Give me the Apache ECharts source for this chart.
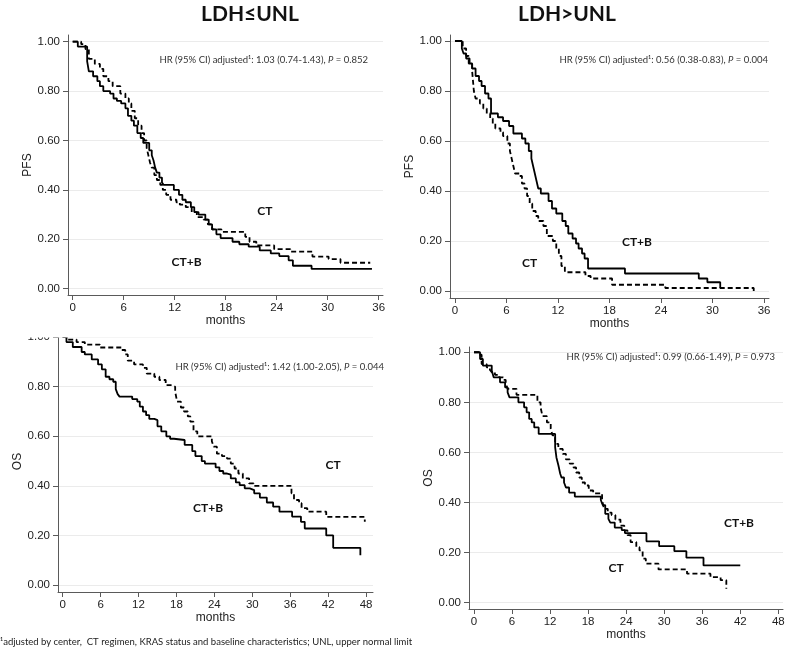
<!DOCTYPE html>
<html><head><meta charset="utf-8">
<script src="https://cdn.jsdelivr.net/npm/echarts@6/dist/echarts.min.js"></script>
<style>html,body{margin:0;padding:0;background:#fff}#c{width:794px;height:654px}</style>
</head><body><div id="c"></div>
<script>
// ---------- data (months, survival probability), step after each time ----------
const pfsLowCTB = [[0,1],[0.6,0.98],[1.7,0.92],[1.9,0.88],[2.4,0.86],[2.9,0.84],[3.2,0.82],[3.6,0.80],[4.4,0.79],[4.8,0.77],[5.2,0.76],[5.7,0.75],[6.2,0.73],[6.5,0.70],[6.9,0.68],[7.2,0.66],[7.6,0.63],[8.0,0.61],[8.3,0.59],[9.0,0.56],[9.3,0.54],[9.5,0.52],[9.7,0.49],[9.9,0.47],[10.2,0.45],[10.5,0.43],[10.7,0.42],[11.9,0.40],[12.5,0.38],[12.9,0.36],[13.3,0.35],[13.9,0.33],[14.3,0.31],[14.8,0.30],[15.6,0.28],[16.0,0.26],[16.4,0.24],[16.9,0.22],[17.4,0.205],[18.8,0.19],[19.6,0.18],[20.7,0.17],[22.0,0.155],[23.3,0.143],[24.3,0.132],[25.4,0.115],[25.9,0.093],[28.1,0.08],[35.2,0.08]];
const pfsLowCT = [[0,1],[1.0,0.99],[1.5,0.97],[1.9,0.93],[2.6,0.91],[3.2,0.89],[3.6,0.86],[4.2,0.84],[4.7,0.82],[5.6,0.79],[6.2,0.77],[6.6,0.75],[6.9,0.72],[7.3,0.69],[7.7,0.66],[8.1,0.63],[8.4,0.60],[8.7,0.57],[8.9,0.54],[9.1,0.51],[9.3,0.49],[9.6,0.46],[9.9,0.44],[10.3,0.42],[10.6,0.40],[11.0,0.38],[11.5,0.36],[12.2,0.35],[12.6,0.34],[13.3,0.33],[14.0,0.31],[14.6,0.29],[15.4,0.28],[15.9,0.26],[16.4,0.24],[17.5,0.23],[20.3,0.21],[20.8,0.19],[21.6,0.175],[23.7,0.16],[25.6,0.15],[28.2,0.13],[30.1,0.12],[31.5,0.105],[35.0,0.105]];
const pfsHighCTB = [[0,1],[0.8,0.97],[1.0,0.95],[1.3,0.93],[1.7,0.91],[2.0,0.89],[2.4,0.86],[2.8,0.84],[3.1,0.82],[3.5,0.79],[3.9,0.77],[4.2,0.71],[5.0,0.695],[5.6,0.68],[6.3,0.66],[6.8,0.63],[7.8,0.61],[8.2,0.59],[8.6,0.56],[8.9,0.53],[9.1,0.50],[9.3,0.47],[9.5,0.44],[9.7,0.41],[10.0,0.39],[10.9,0.36],[11.3,0.33],[11.8,0.31],[12.5,0.28],[12.9,0.26],[13.2,0.23],[13.7,0.21],[14.1,0.19],[14.4,0.17],[14.8,0.15],[15.1,0.13],[15.5,0.09],[19.8,0.07],[28.4,0.05],[29.4,0.035],[30.9,0.012]];
const pfsHighCT = [[0,1],[0.9,0.97],[1.3,0.94],[1.6,0.91],[2.0,0.88],[2.2,0.80],[2.4,0.77],[2.9,0.75],[3.3,0.73],[3.7,0.71],[4.1,0.69],[4.4,0.67],[4.7,0.65],[5.3,0.635],[5.6,0.62],[6.1,0.59],[6.4,0.56],[6.6,0.53],[6.8,0.50],[7.0,0.47],[7.5,0.46],[7.8,0.43],[8.1,0.41],[8.4,0.38],[8.7,0.35],[9.0,0.32],[9.4,0.30],[9.7,0.28],[10.3,0.26],[10.7,0.22],[11.4,0.20],[11.8,0.17],[12.1,0.14],[12.4,0.10],[12.8,0.075],[15.2,0.06],[15.8,0.05],[18.3,0.025],[24.5,0.012],[34.8,0.0]];
const osLowCTB = [[0,1],[0.6,0.98],[1.6,0.96],[3.0,0.94],[3.5,0.93],[4.6,0.91],[5.6,0.89],[6.2,0.87],[6.8,0.84],[7.4,0.83],[8.0,0.82],[8.4,0.79],[8.7,0.77],[9.0,0.76],[11.0,0.75],[11.8,0.74],[12.2,0.72],[12.7,0.70],[13.2,0.685],[13.7,0.67],[14.5,0.665],[15.0,0.64],[15.6,0.62],[16.4,0.60],[17.0,0.59],[17.6,0.585],[19.3,0.565],[20.5,0.54],[21.0,0.52],[22.0,0.50],[22.5,0.49],[24.2,0.475],[24.8,0.46],[25.4,0.45],[25.9,0.445],[26.6,0.43],[27.4,0.414],[28.0,0.403],[28.8,0.39],[29.6,0.383],[30.3,0.37],[31.2,0.353],[32.3,0.333],[33.3,0.316],[34.3,0.296],[36.3,0.276],[37.7,0.255],[38.3,0.228],[41.7,0.20],[42.8,0.15],[47.1,0.12]];
const osLowCT = [[0,1],[0.6,0.99],[2.2,0.98],[3.5,0.97],[5.9,0.958],[9.3,0.948],[9.9,0.93],[10.3,0.905],[11.3,0.89],[12.7,0.876],[13.3,0.853],[14.5,0.84],[15.3,0.827],[16.3,0.806],[17.3,0.80],[17.8,0.78],[18.1,0.74],[18.7,0.716],[19.2,0.70],[19.8,0.68],[20.2,0.659],[20.7,0.62],[21.3,0.60],[23.6,0.58],[23.9,0.558],[24.4,0.53],[25.2,0.52],[26.0,0.51],[26.6,0.49],[27.2,0.47],[27.8,0.45],[28.5,0.43],[29.5,0.41],[30.2,0.40],[36.2,0.37],[36.6,0.343],[37.4,0.33],[37.8,0.31],[38.7,0.296],[41.7,0.275],[47.8,0.255]];
const osHighCTB = [[0,1],[0.95,0.973],[1.4,0.947],[2.8,0.927],[3.1,0.90],[4.1,0.88],[4.9,0.86],[5.3,0.84],[5.6,0.82],[7.0,0.80],[7.9,0.78],[8.3,0.76],[8.7,0.734],[9.1,0.72],[9.5,0.70],[10.2,0.674],[12.8,0.62],[13.0,0.58],[13.3,0.55],[13.6,0.515],[13.8,0.50],[14.2,0.48],[14.5,0.46],[15.0,0.44],[15.9,0.424],[20.0,0.41],[20.3,0.39],[20.7,0.355],[21.2,0.335],[21.5,0.32],[22.2,0.30],[23.3,0.29],[23.8,0.278],[27.2,0.245],[29.2,0.226],[31.6,0.206],[33.5,0.18],[36.2,0.149],[42.0,0.149]];
const osHighCT = [[0,1],[0.8,0.99],[1.2,0.953],[2.0,0.94],[2.5,0.93],[2.8,0.92],[3.3,0.91],[4.0,0.90],[4.6,0.89],[5.0,0.874],[5.3,0.854],[6.7,0.83],[10.0,0.80],[10.5,0.78],[10.8,0.745],[11.5,0.72],[12.1,0.694],[12.4,0.668],[12.8,0.634],[13.3,0.614],[14.0,0.594],[14.5,0.572],[15.1,0.555],[15.7,0.54],[16.1,0.52],[16.6,0.50],[17.0,0.48],[17.5,0.468],[18.1,0.448],[18.8,0.437],[20.2,0.41],[20.5,0.375],[21.1,0.36],[21.7,0.35],[22.3,0.332],[23.1,0.308],[23.7,0.289],[24.2,0.27],[24.7,0.242],[25.6,0.222],[26.1,0.209],[26.6,0.176],[27.1,0.156],[29.1,0.133],[33.6,0.116],[37.3,0.102],[38.9,0.09],[39.8,0.056]];

const pfsTicks = [0, 6, 12, 18, 24, 30, 36];
const osTicks = [0, 6, 12, 18, 24, 30, 36, 42, 48];
const yTicks = [0, 0.2, 0.4, 0.6, 0.8, 1.0];

const titles = ['LDH\u2264UNL', 'LDH>UNL'];
const hrTexts = [
  'HR (95% CI) adjusted\u00b9: 1.03 (0.74-1.43), {i|P} = 0.852',
  'HR (95% CI) adjusted\u00b9: 0.56 (0.38-0.83), {i|P} = 0.004',
  'HR (95% CI) adjusted\u00b9: 1.42 (1.00-2.05), {i|P} = 0.044',
  'HR (95% CI) adjusted\u00b9: 0.99 (0.66-1.49), {i|P} = 0.973'
];
// group label positions in data coordinates [months, survival]
const groupLabels = [
  [['CT', 22.6, 0.315], ['CT+B', 13.4, 0.108]],
  [['CT+B', 21.2, 0.197], ['CT', 8.7, 0.111]],
  [['CT', 42.8, 0.484], ['CT+B', 23.0, 0.31]],
  [['CT+B', 41.8, 0.317], ['CT', 22.4, 0.14]]
];
const footnote = '\u00b9adjusted by center,  CT regimen, KRAS status and baseline characteristics; UNL, upper normal limit';

// ---------- layout ----------
const NARROW = '"Liberation Sans Narrow","Arial Narrow","Liberation Sans",sans-serif';
const HUMAN = 'Lato,"Open Sans",sans-serif';
const panels = [
  {grid:{left:68, top:35, width:315, height:260}, x:[-0.553, 36.5], y:[-0.0255, 1.027], xt:pfsTicks, yname:'PFS', ctb:pfsLowCTB, ct:pfsLowCT, hr:[368, 60]},
  {grid:{left:450, top:35, width:319, height:263}, x:[-0.58, 36.58], y:[-0.028, 1.024], xt:pfsTicks, yname:'PFS', ctb:pfsHighCTB, ct:pfsHighCT, hr:[768, 60]},
  {grid:{left:58, top:331, width:315, height:261}, x:[-0.74, 49.1], y:[-0.028, 1.0246], xt:osTicks, yname:'OS', ctb:osLowCTB, ct:osLowCT, hr:[384, 367]},
  {grid:{left:469, top:347, width:314, height:262}, x:[-0.79, 48.74], y:[-0.025, 1.021], xt:osTicks, yname:'OS', ctb:osHighCTB, ct:osHighCT, hr:[775, 357]}
];

const axisColor = '#5a5a5a';
const grids = [], xAxes = [], yAxes = [], series = [], graphics = [];
panels.forEach((p, i) => {
  grids.push(Object.assign({containLabel:false}, p.grid));
  xAxes.push({
    gridIndex:i, type:'value', min:p.x[0], max:p.x[1],
    axisLine:{show:true, onZero:false, lineStyle:{color:axisColor, width:1}},
    axisTick:{show:true, length:5, customValues:p.xt, lineStyle:{color:axisColor}},
    axisLabel:{show:true, customValues:p.xt, margin:7, fontFamily:NARROW, fontSize:11.5, color:'#222'},
    splitLine:{show:false},
    name:'months', nameLocation:'middle', nameGap:18,
    nameTextStyle:{fontFamily:NARROW, fontSize:12, color:'#222'}
  });
  yAxes.push({
    gridIndex:i, type:'value', min:p.y[0], max:p.y[1],
    axisLine:{show:true, onZero:false, lineStyle:{color:axisColor, width:1}},
    axisTick:{show:true, length:5, customValues:yTicks, lineStyle:{color:axisColor}},
    axisLabel:{show:true, customValues:yTicks, margin:8, fontFamily:NARROW, fontSize:11.5, color:'#222',
      formatter:v => v.toFixed(2)},
    splitLine:{show:true, lineStyle:{color:'#ebebeb', width:1}},
    name:p.yname, nameLocation:'middle', nameGap:30,
    nameTextStyle:{fontFamily:NARROW, fontSize:12, color:'#222'}
  });
  const mk = groupLabels[i].map(g => ({
    coord:[g[1], g[2]], value:g[0], symbol:'rect', symbolSize:1,
    itemStyle:{color:'rgba(0,0,0,0)'},
    label:{show:true, position:'inside', formatter:g[0], fontFamily:HUMAN, fontWeight:'bold', fontSize:12, color:'#111'}
  }));
  series.push({
    type:'line', xAxisIndex:i, yAxisIndex:i, data:p.ctb, step:'end', showSymbol:false, symbol:'none',
    lineStyle:{color:'#000', width:1.8, type:'solid'}, silent:true, animation:false,
    markPoint:{data:mk, animation:false, silent:true}
  });
  series.push({
    type:'line', xAxisIndex:i, yAxisIndex:i, data:p.ct, step:'end', showSymbol:false, symbol:'none',
    lineStyle:{color:'#000', width:1.8, type:[5, 3]}, silent:true, animation:false
  });
  graphics.push({
    type:'text', x:p.hr[0], y:p.hr[1], z:10,
    style:{text:hrTexts[i], align:'right', textAlign:'right', verticalAlign:'middle', textVerticalAlign:'middle',
      fontFamily:HUMAN, fontSize:9.5, fill:'#333',
      rich:{i:{fontStyle:'italic', fontFamily:HUMAN, fontSize:9.5, fill:'#333'}}}
  });
});
// clipping of the lower-left sub-figure's top edge (as in the reference)
graphics.push({type:'rect', shape:{x:0, y:325, width:400, height:12.5}, style:{fill:'#fff'}, z:20});
titles.forEach((t, k) => {
  graphics.push({type:'text', x:[250, 567][k], y:14, z:10,
    style:{text:t, align:'center', textAlign:'center', verticalAlign:'middle', textVerticalAlign:'middle',
      fontFamily:HUMAN, fontWeight:'bold', fontSize:21, fill:'#111'}});
});
graphics.push({type:'text', x:0, y:642, z:30,
  style:{text:footnote, align:'left', textAlign:'left', verticalAlign:'middle', textVerticalAlign:'middle',
    fontFamily:HUMAN, fontSize:9.5, fill:'#222'}});

const chart = echarts.init(document.getElementById('c'), null, {renderer:'canvas'});
chart.setOption({
  backgroundColor:'#fff', animation:false,
  grid:grids, xAxis:xAxes, yAxis:yAxes, series:series, graphic:graphics
});
</script>
</body></html>
